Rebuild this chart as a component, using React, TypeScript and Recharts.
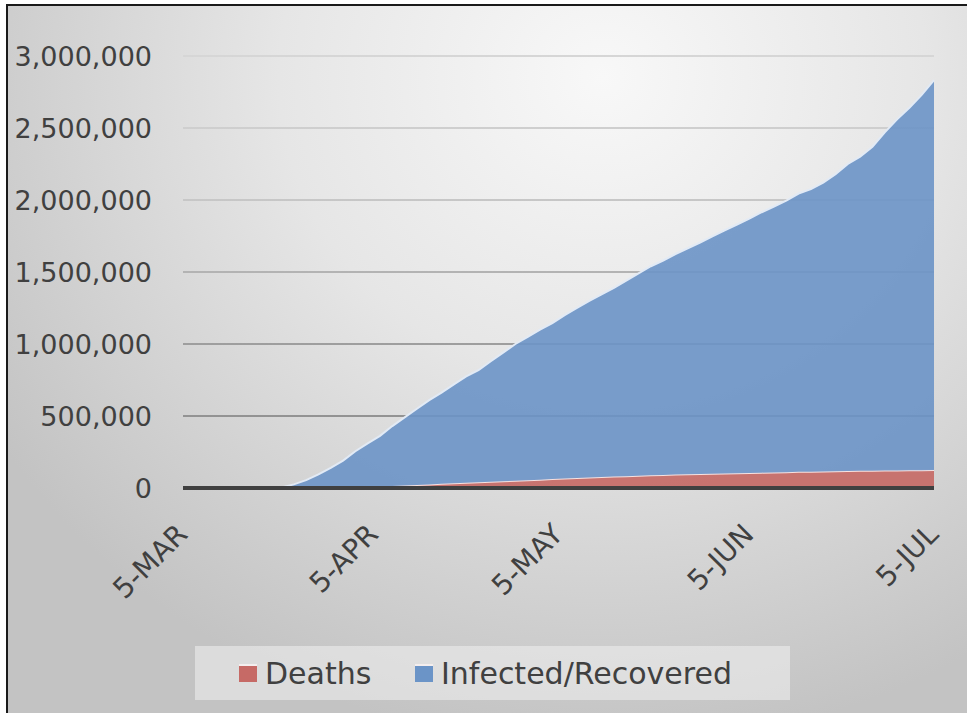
import React from 'react';
import { AreaChart, Area, XAxis, YAxis, CartesianGrid } from 'recharts';

// day offsets from 5 March, sampled every 2 days
const days = [
  0, 2, 4, 6, 8, 10, 12, 14, 16, 18, 20, 22, 24, 26, 28, 30, 32, 34, 36, 38,
  40, 42, 44, 46, 48, 50, 52, 54, 56, 58, 60, 62, 64, 66, 68, 70, 72, 74, 76, 78,
  80, 82, 84, 86, 88, 90, 92, 94, 96, 98, 100, 102, 104, 106, 108, 110, 112, 114,
  116, 118, 120, 122,
];

// top of the blue area (all cases)
const totalCases = [
  0, 0, 0, 0, 0, 0, 0, 0, 3000, 25000, 55000, 95000, 140000, 190000, 255000, 310000,
  362000, 430000, 490000, 550000, 610000, 662000, 720000, 775000, 818000, 880000,
  940000, 1000000, 1050000, 1100000, 1145000, 1200000, 1250000, 1300000, 1345000,
  1390000, 1440000, 1490000, 1540000, 1580000, 1625000, 1665000, 1705000, 1748000,
  1790000, 1830000, 1870000, 1915000, 1955000, 1995000, 2045000, 2075000, 2120000,
  2180000, 2250000, 2300000, 2370000, 2470000, 2560000, 2640000, 2730000, 2833000,
];

const deaths = [
  0, 0, 0, 0, 0, 0, 0, 0, 300, 600, 1000, 1700, 2500, 3800, 5500, 8000, 10500, 14000,
  17500, 21000, 25000, 29000, 33000, 37000, 40500, 44000, 47500, 51000, 54500, 58000,
  62000, 66000, 70000, 73000, 76000, 79000, 82000, 85000, 88000, 90500, 93000, 95000,
  97000, 99000, 101000, 103000, 105000, 106500, 108000, 110000, 112000, 113500, 115000,
  116500, 118000, 119000, 120000, 121000, 122000, 123000, 124000, 125000,
];

const tickDays = [0, 31, 61, 92, 122];
const tickLabels = ['5-MAR', '5-APR', '5-MAY', '5-JUN', '5-JUL'];
const yTicks = [0, 500000, 1000000, 1500000, 2000000, 2500000, 3000000];

const data = days.map((d, i) => ({
  day: d,
  deaths: deaths[i],
  infected: totalCases[i] - deaths[i],
}));

const FONT = '"DejaVu Sans", sans-serif';
const TEXT = '#404040';
const BLUE = '#6b94c7';
const RED = '#c66a66';

const DateTick = (props: any) => {
  const { x, payload } = props;
  const idx = tickDays.indexOf(payload.value);
  const ax = x + 6;
  const ay = 536;
  return (
    <text
      x={ax}
      y={ay}
      transform={`rotate(-45, ${ax}, ${ay})`}
      textAnchor="end"
      fill={TEXT}
      fontSize={28}
      fontFamily={FONT}
    >
      {tickLabels[idx]}
    </text>
  );
};

const legendItems = [
  { name: 'Deaths', color: RED },
  { name: 'Infected/Recovered', color: BLUE },
];

export default function App() {
  return (
    <div style={{ position: 'absolute', left: 0, top: 0, width: 967, height: 713, background: '#fff' }}>
      <div
        style={{
          position: 'absolute',
          left: 6,
          top: 4,
          width: 961,
          height: 709,
          borderLeft: '2px solid #1a1a1a',
          borderTop: '2px solid #1a1a1a',
          boxSizing: 'border-box',
          background:
            'radial-gradient(ellipse 75% 95% at 62% 10%, #f8f8f8 0%, #e6e6e6 45%, #c3c3c3 100%)',
        }}
      />
      <div style={{ position: 'absolute', left: 0, top: 0 }}>
        <AreaChart
          width={967}
          height={713}
          data={data}
          margin={{ top: 56, right: 33, left: 0, bottom: 75 }}
        >
          <defs>
            <linearGradient id="gridGrad" gradientUnits="userSpaceOnUse" x1="0" y1="56" x2="0" y2="488">
              <stop offset="0%" stopColor="#d6d6d6" />
              <stop offset="35%" stopColor="#c6c6c6" />
              <stop offset="70%" stopColor="#9a9a9a" />
              <stop offset="100%" stopColor="#8a8a8a" />
            </linearGradient>
          </defs>
          <CartesianGrid vertical={false} stroke="url(#gridGrad)" strokeWidth={2} />
          <XAxis
            dataKey="day"
            type="number"
            domain={[0, 122]}
            ticks={tickDays}
            interval={0}
            tickLine={false}
            axisLine={{ stroke: '#404040', strokeWidth: 4 }}
            tick={<DateTick />}
            height={150}
          />
          <YAxis
            domain={[0, 3000000]}
            ticks={yTicks}
            interval={0}
            width={183}
            axisLine={false}
            tickLine={false}
            tickSize={0}
            tickMargin={31}
            tick={{ fill: TEXT, fontSize: 27, fontFamily: FONT }}
            tickFormatter={(v: number) => v.toLocaleString('en-US')}
          />
          <Area
            type="linear"
            dataKey="deaths"
            stackId="1"
            fill={RED}
            fillOpacity={0.92}
            stroke="#f6e2e1"
            strokeWidth={2}
            isAnimationActive={false}
          />
          <Area
            type="linear"
            dataKey="infected"
            stackId="1"
            fill={BLUE}
            fillOpacity={0.9}
            stroke="#e2eaf5"
            strokeWidth={2}
            isAnimationActive={false}
          />
        </AreaChart>
      </div>
      <div
        style={{
          position: 'absolute',
          left: 195,
          top: 646,
          width: 595,
          height: 54,
          background: 'rgba(240,240,240,0.55)',
          fontFamily: FONT,
          fontSize: 30,
          color: TEXT,
        }}
      >
        {legendItems.map((item, i) => (
          <div
            key={item.name}
            style={{
              position: 'absolute',
              left: i === 0 ? 44 : 220,
              top: 0,
              height: 54,
              display: 'flex',
              alignItems: 'center',
              whiteSpace: 'nowrap',
            }}
          >
            <span
              style={{
                display: 'inline-block',
                width: 18,
                height: 18,
                background: item.color,
                borderTop: '2px solid #f4eeee',
                boxSizing: 'border-box',
                marginRight: 8,
              }}
            />
            <span>{item.name}</span>
          </div>
        ))}
      </div>
    </div>
  );
}
